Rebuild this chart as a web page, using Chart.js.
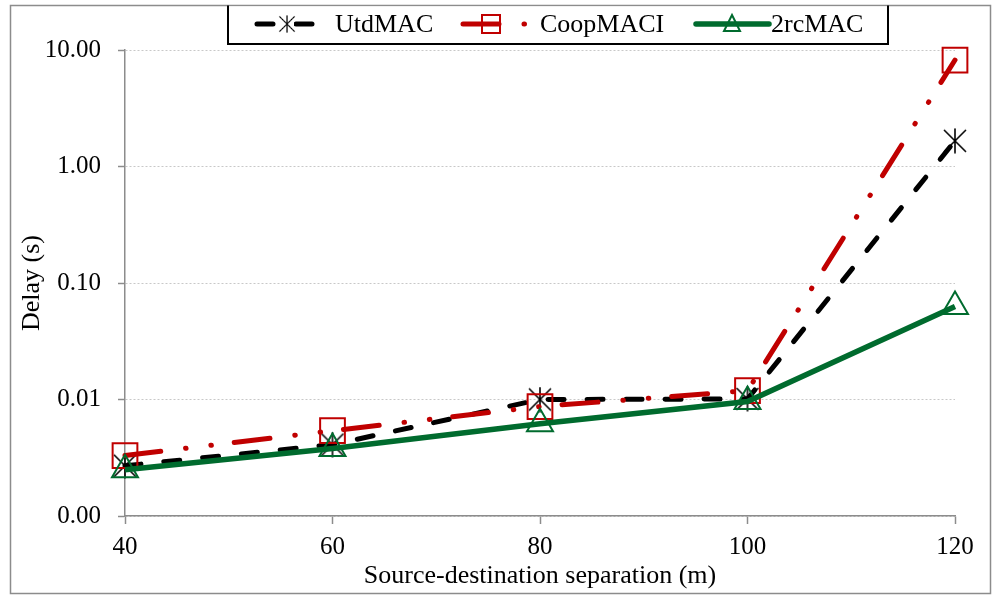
<!DOCTYPE html>
<html>
<head>
<meta charset="utf-8">
<script src="https://cdn.jsdelivr.net/npm/chart.js@4/dist/chart.umd.min.js"></script>
<style>
  html, body { margin: 0; padding: 0; background: #fff; }
  #wrap { width: 996px; height: 597px; }
</style>
</head>
<body>
<div id="wrap"><canvas id="myChart" width="996" height="597"></canvas></div>
<script>
const labels = ['40', '60', '80', '100', '120'];
const utdMAC = [0.0027, 0.0041, 0.0100, 0.0101, 1.66];
const coopMACI = [0.0033, 0.0054, 0.0087, 0.0119, 8.2];
const rcMAC2 = [0.0025, 0.0038, 0.0062, 0.0096, 0.063];
const yTicks = [0.001, 0.01, 0.1, 1, 10];

const FONT = "'Liberation Serif', 'Times New Roman', serif";

// asterisk marker (X plus vertical bar) like the Excel one
function makeStar(size, color) {
  const c = document.createElement('canvas');
  c.width = size; c.height = size;
  const g = c.getContext('2d');
  g.strokeStyle = color;
  g.lineWidth = 1.6;
  const m = size / 2, a = 2;
  g.beginPath();
  g.moveTo(a, a); g.lineTo(size - a, size - a);
  g.moveTo(size - a, a); g.lineTo(a, size - a);
  g.moveTo(m, 0.5); g.lineTo(m, size - 0.5);
  g.stroke();
  return c;
}
const starImg = makeStar(26, '#000');

const data = {
  labels: labels,
  datasets: [{
    label: 'UtdMAC',
    data: utdMAC,
    borderColor: '#000000',
    borderWidth: 5,
    borderDash: [16, 23],
    borderCapStyle: 'round',
    pointStyle: starImg,
    pointRadius: 13,
    clip: false,
    order: 2
  }, {
    label: 'CoopMACI',
    data: coopMACI,
    borderColor: '#c00000',
    borderWidth: 5,
    borderDash: [36, 25, 0.5, 25, 0.5, 23],
    borderCapStyle: 'round',
    pointStyle: 'rect',
    pointRadius: 17.5,
    pointBorderWidth: 2,
    pointBackgroundColor: 'rgba(0,0,0,0)',
    clip: false,
    order: 1
  }, {
    label: '2rcMAC',
    data: rcMAC2,
    borderColor: '#006b2e',
    borderWidth: 5.5,
    pointStyle: 'triangle',
    pointRadius: 15,
    pointBorderWidth: 2,
    pointBackgroundColor: 'rgba(0,0,0,0)',
    clip: false,
    order: 0
  }]
};

// outer frame + custom legend box
const framePlugin = {
  id: 'frame',
  beforeDraw(chart) {
    const ctx = chart.ctx;
    ctx.save();
    ctx.fillStyle = '#fff';
    ctx.fillRect(0, 0, chart.width, chart.height);
    ctx.strokeStyle = '#8c8c8c';
    ctx.lineWidth = 1.5;
    ctx.strokeRect(10.5, 5.5, 980, 588);
    ctx.restore();
  },
  afterDraw(chart) {
    const ctx = chart.ctx;
    ctx.save();
    ctx.fillStyle = '#fff';
    ctx.fillRect(229, 6.5, 658, 37);
    ctx.strokeStyle = '#000';
    ctx.lineWidth = 2;
    ctx.beginPath();
    ctx.moveTo(228, 5.5); ctx.lineTo(228, 44); ctx.lineTo(888, 44); ctx.lineTo(888, 5.5);
    ctx.stroke();

    const items = [
      { ds: 0, x1: 257, x2: 320, mx: 287, tx: 335 },
      { ds: 1, x1: 463, x2: 527, mx: 491, tx: 540 },
      { ds: 2, x1: 696, x2: 769, mx: 732, tx: 771 }
    ];
    const y = 24;
    items.forEach(it => {
      const d = chart.data.datasets[it.ds];
      ctx.save();
      ctx.strokeStyle = d.borderColor;
      ctx.lineWidth = d.borderWidth;
      ctx.lineCap = 'round';
      ctx.setLineDash(d.borderDash || []);
      ctx.beginPath();
      ctx.moveTo(it.x1, y); ctx.lineTo(it.x2, y);
      ctx.stroke();
      ctx.restore();
      ctx.save();
      ctx.fillStyle = '#fff';
      ctx.strokeStyle = d.borderColor;
      ctx.lineWidth = 2;
      if (d.pointStyle === 'rect') {
        ctx.fillRect(it.mx - 9, y - 9, 18, 18);
        ctx.strokeRect(it.mx - 9, y - 9, 18, 18);
        ctx.beginPath(); ctx.moveTo(it.mx - 9, y); ctx.lineTo(it.mx + 9, y);
        ctx.lineWidth = 5; ctx.stroke();
      } else if (d.pointStyle === 'triangle') {
        ctx.beginPath();
        ctx.moveTo(it.mx, y - 9); ctx.lineTo(it.mx + 8, y + 7); ctx.lineTo(it.mx - 8, y + 7); ctx.closePath();
        ctx.stroke();
      } else {
        ctx.fillRect(it.mx - 7, y - 9, 14, 18);
        ctx.drawImage(d.pointStyle, it.mx - 9, y - 9, 18, 18);
      }
      ctx.restore();
      ctx.save();
      ctx.fillStyle = '#000';
      ctx.font = '26px ' + FONT;
      ctx.textBaseline = 'middle';
      ctx.fillText(d.label, it.tx, y + 1);
      ctx.restore();
    });
    ctx.restore();
  }
};

const config = {
  type: 'line',
  data: data,
  options: {
    responsive: false,
    animation: false,
    layout: { padding: { left: 12, right: 41, top: 50, bottom: 5 } },
    plugins: {
      legend: { display: false },
      tooltip: { enabled: false }
    },
    scales: {
      x: {
        type: 'category',
        offset: false,
        grid: { drawOnChartArea: false, drawTicks: true, tickLength: 8, tickColor: '#8c8c8c', tickWidth: 1.5 },
        border: { color: '#8c8c8c', width: 1.5 },
        ticks: { color: '#000', font: { family: FONT, size: 25 }, padding: 8, maxRotation: 0 },
        title: { display: true, text: 'Source-destination separation (m)', color: '#000', font: { family: FONT, size: 26 }, padding: { top: 0, bottom: 0 } },
        afterFit(scale) { scale.height = 76; }
      },
      y: {
        type: 'logarithmic',
        min: 0.001,
        max: 10,
        grid: { color: '#c8c8c8', lineWidth: 1, tickLength: 7, tickColor: '#8c8c8c', tickWidth: 1.5 },
        border: { color: '#8c8c8c', width: 1.5, dash: [2, 2] },
        afterBuildTicks(scale) { scale.ticks = yTicks.map(v => ({ value: v })); },
        ticks: {
          color: '#000',
          font: { family: FONT, size: 25 },
          padding: 17,
          callback: (v) => Number(v).toFixed(2)
        },
        title: { display: true, text: 'Delay (s)', color: '#000', font: { family: FONT, size: 26 }, padding: { top: 5, bottom: 0 } },
        afterFit(scale) { scale.width = 113; }
      }
    }
  },
  plugins: [framePlugin]
};

const myChart = new Chart(document.getElementById('myChart').getContext('2d'), config);
</script>
</body>
</html>
